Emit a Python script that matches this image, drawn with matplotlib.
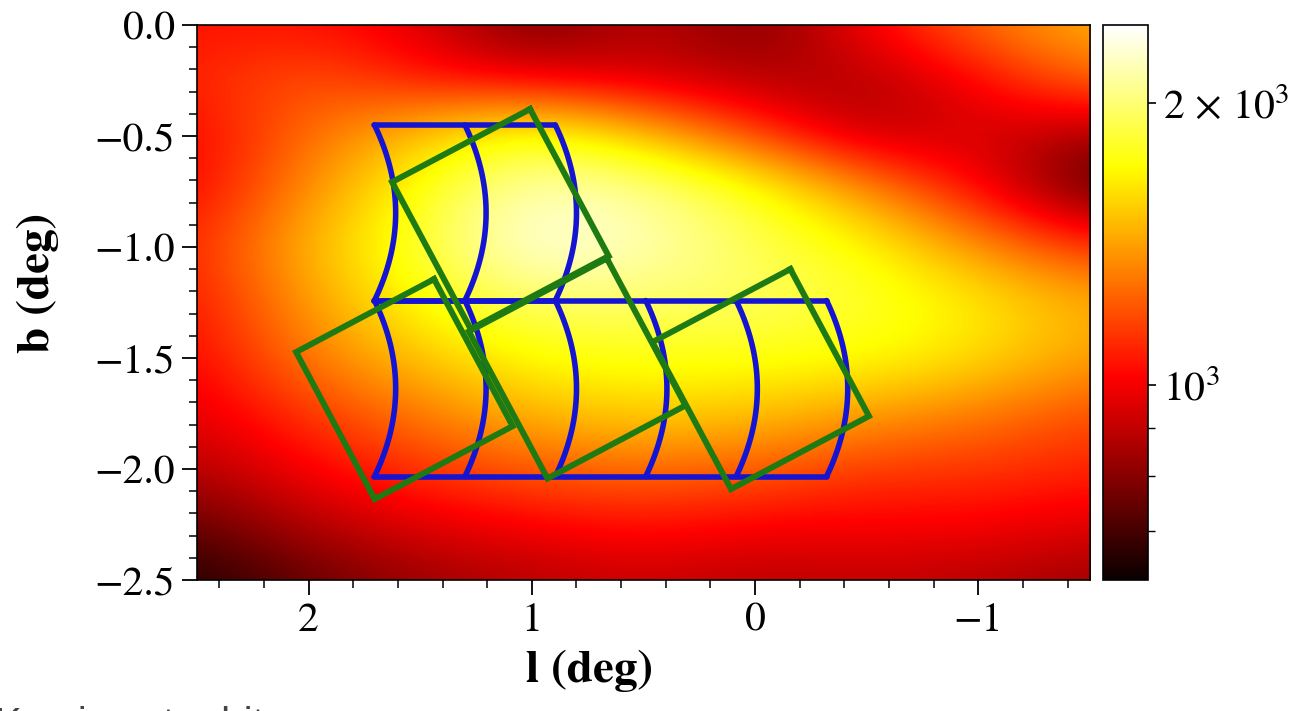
import numpy as np
import matplotlib
matplotlib.use("Agg")
import matplotlib.pyplot as plt
from matplotlib.colors import LogNorm
from matplotlib.ticker import MultipleLocator, FixedLocator, FixedFormatter, NullFormatter

plt.rcParams['font.family'] = ['STIXGeneral', 'DejaVu Serif']
plt.rcParams['mathtext.fontset'] = 'stix'

# ---------------- data ----------------
# background map sampled on a coarse grid (read from the picture)
l_nodes = [2.5, 2.0, 1.5, 1.0, 0.5, 0.0, -0.5, -1.0, -1.5]
b_nodes = [0.0, -0.25, -0.5, -0.75, -1.0, -1.25, -1.5, -1.75, -2.0, -2.25, -2.5]
row_b000 = [1050, 1050, 960, 740, 920, 760, 1010, 1265, 1475]
row_b025 = [1090, 1220, 1050, 960, 920, 875, 860, 1010, 1265]
row_b050 = [1010, 1265, 1515, 1780, 1480, 1135, 860, 960, 820]
row_b075 = [1010, 1350, 1740, 2250, 2100, 1760, 1350, 1010, 700]
row_b100 = [1090, 1475, 1820, 2350, 2200, 1920, 1700, 1350, 1100]
row_b125 = [1050, 1390, 1720, 1960, 1960, 1960, 1820, 1650, 1450]
row_b150 = [1010, 1305, 1515, 1720, 1760, 1740, 1720, 1600, 1400]
row_b175 = [960, 1135, 1305, 1475, 1560, 1515, 1390, 1305, 1180]
row_b200 = [875, 1010, 1135, 1220, 1265, 1220, 1135, 1135, 1090]
row_b225 = [740, 875, 960, 1010, 1050, 1010, 1010, 1010, 960]
row_b250 = [645, 740, 830, 875, 920, 875, 900, 875, 830]
vmin, vmax = 620, 2420

# blue fields (curved-edge chips)
blue_row_edges_b = [-0.450, -1.241, -2.034]
blue_arc_l = [1.705, 1.300, 0.895, 0.490, 0.085, -0.320]
blue_row_ncells = [2, 5]
blue_bulge = 0.095

# green fields (rotated rectangles)
green_l = [1.141, 0.797, 1.571, -0.025]
green_b = [-0.874, -1.547, -1.640, -1.595]
green_w, green_h, green_angle = 0.70, 0.75, 28.0

# ---------------- figure ----------------
fig = plt.figure(figsize=(13.01, 7.11), dpi=100)
ax = fig.add_axes([0.1514, 0.1842, 0.6864, 0.7806])

grid = np.array([row_b000, row_b025, row_b050, row_b075, row_b100, row_b125,
                 row_b150, row_b175, row_b200, row_b225, row_b250], dtype=float)
dl = abs(l_nodes[1] - l_nodes[0])
db = abs(b_nodes[1] - b_nodes[0])
im = ax.imshow(grid, origin='upper', cmap='hot', norm=LogNorm(vmin=vmin, vmax=vmax),
               extent=[l_nodes[0] + dl / 2, l_nodes[-1] - dl / 2,
                       b_nodes[-1] - db / 2, b_nodes[0] + db / 2],
               interpolation='bicubic', aspect='auto')

blue = '#1414d2'
green = '#1e7a12'
lw = 4.0

# blue chips
for r, ncell in enumerate(blue_row_ncells):
    btop, bbot = blue_row_edges_b[r], blue_row_edges_b[r + 1]
    bb = np.linspace(btop, bbot, 60)
    mid, half = (btop + bbot) / 2, (btop - bbot) / 2
    for k in range(ncell + 1):
        t = (bb - mid) / half
        ax.plot(blue_arc_l[k] - blue_bulge * (1 - t ** 2), bb, color=blue,
                lw=lw, solid_capstyle='round', zorder=3)
    for bedge in (btop, bbot):
        ax.plot([blue_arc_l[0], blue_arc_l[ncell]], [bedge, bedge], color=blue,
                lw=lw, solid_capstyle='round', zorder=3)

# green rectangles
th = np.deg2rad(green_angle)
u = np.array([-np.cos(th), np.sin(th)])
v = np.array([-np.sin(th), -np.cos(th)])
for cl, cb in zip(green_l, green_b):
    c = np.array([cl, cb])
    corners = np.array([c + sa * green_w / 2 * u + sb * green_h / 2 * v
                        for sa, sb in [(1, -1), (1, 1), (-1, 1), (-1, -1), (1, -1)]])
    ax.plot(corners[:, 0], corners[:, 1], color=green, lw=4.3,
            solid_joinstyle='miter', zorder=4)

ax.set_xlim(2.5, -1.5)
ax.set_ylim(-2.5, 0.0)
ax.xaxis.set_major_locator(MultipleLocator(1.0))
ax.xaxis.set_minor_locator(MultipleLocator(0.2))
ax.yaxis.set_major_locator(MultipleLocator(0.5))
ax.yaxis.set_minor_locator(MultipleLocator(0.1))
ax.yaxis.set_major_formatter(plt.FuncFormatter(lambda x, p: f"{x:.1f}".replace('-', '\u2212')))
ax.xaxis.set_major_formatter(plt.FuncFormatter(lambda x, p: f"{x:.0f}".replace('-', '\u2212')))
ax.tick_params(which='major', direction='out', length=11, width=1.3, labelsize=30, pad=5)
ax.tick_params(which='minor', direction='out', length=5.5, width=1.1)
for s in ax.spines.values():
    s.set_linewidth(1.2)
ax.set_xlabel('l (deg)', fontsize=34, fontweight='bold')
ax.set_ylabel('b (deg)', fontsize=34, fontweight='bold')
ax.xaxis.set_label_coords(0.44, -0.125)
ax.yaxis.set_label_coords(-0.155, 0.535)

cax = fig.add_axes([0.8478, 0.1842, 0.0346, 0.7806])
cb = fig.colorbar(im, cax=cax)
cb.outline.set_linewidth(1.2)
cax.yaxis.set_major_locator(FixedLocator([1000, 2000]))
cax.yaxis.set_major_formatter(FixedFormatter([r'$10^3$', r'$2\,\times\,10^3$']))
cax.yaxis.set_minor_locator(FixedLocator([700, 800, 900]))
cax.yaxis.set_minor_formatter(NullFormatter())
cax.tick_params(which='major', direction='out', length=6, width=1.2, labelsize=30, pad=5)
cax.tick_params(which='minor', direction='out', length=5, width=1.0)

fig.text(-0.004, -0.035, 'Kami seat orbit', fontsize=29, color='#444444',
         family=['Liberation Sans', 'DejaVu Sans'])

fig.savefig('out.png', dpi=100)
